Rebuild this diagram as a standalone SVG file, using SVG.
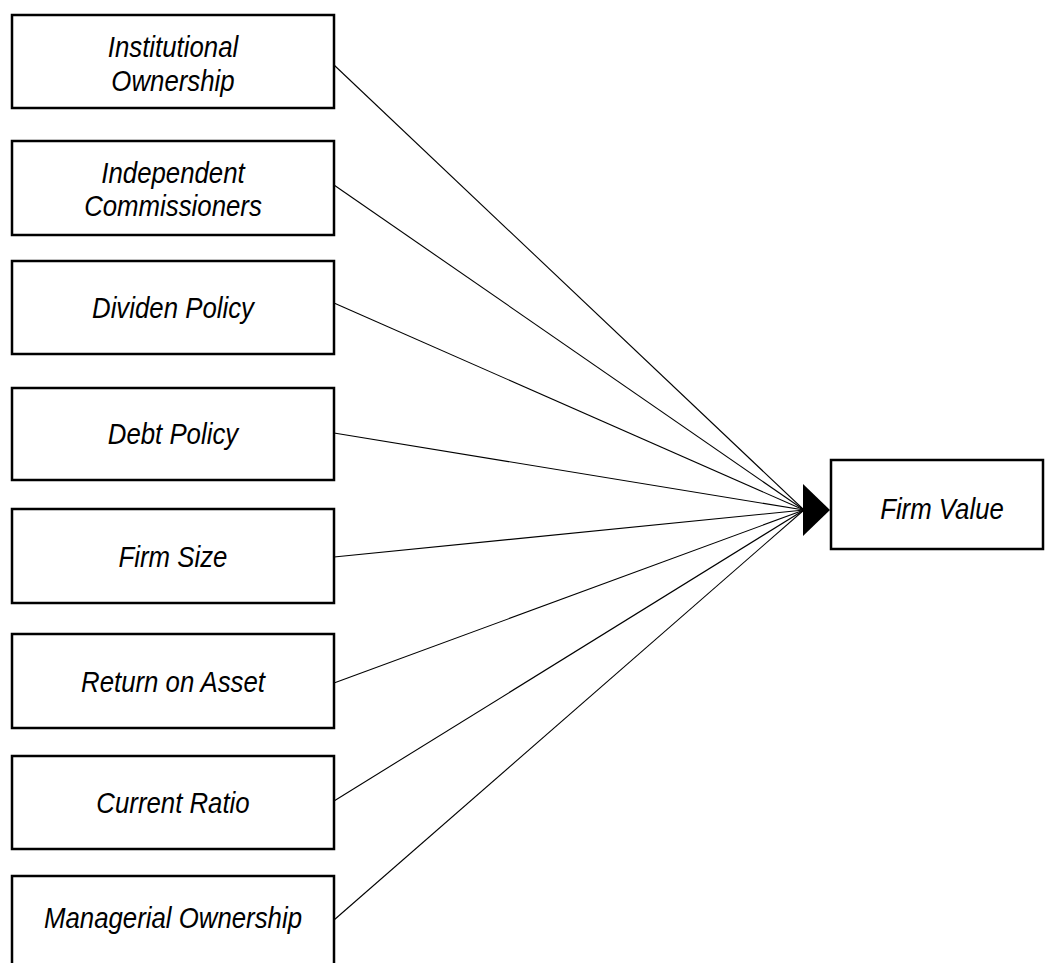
<svg xmlns="http://www.w3.org/2000/svg" width="1048" height="963" viewBox="0 0 1048 963">
<style>
.box{fill:#fff;stroke:#000;stroke-width:2.5}
.lbl{font-family:"Liberation Sans",Arial,sans-serif;font-style:italic;font-size:30px;fill:#000;text-anchor:middle}
.conn{stroke:#000;stroke-width:1.1;fill:none}
</style>
<rect width="1048" height="963" fill="#fff"/>
<g id="connectors">
<line class="conn" x1="334" y1="65" x2="804" y2="510"/>
<line class="conn" x1="334" y1="185" x2="804" y2="510"/>
<line class="conn" x1="334" y1="303" x2="804" y2="510"/>
<line class="conn" x1="334" y1="433" x2="804" y2="510"/>
<line class="conn" x1="334" y1="557" x2="804" y2="510"/>
<line class="conn" x1="334" y1="683" x2="804" y2="510"/>
<line class="conn" x1="334" y1="801" x2="804" y2="510"/>
<line class="conn" x1="334" y1="920" x2="804" y2="510"/>
<polygon points="803,484 830,510 803,536" fill="#000"/>
</g>
<g id="n1"><rect class="box" x="12" y="15" width="322" height="93"/>
<text class="lbl" transform="translate(173,57) scale(0.86,1)">Institutional</text>
<text class="lbl" transform="translate(173,91) scale(0.86,1)">Ownership</text></g>
<g id="n2"><rect class="box" x="12" y="141" width="322" height="94"/>
<text class="lbl" transform="translate(173,183) scale(0.86,1)">Independent</text>
<text class="lbl" transform="translate(173,216) scale(0.86,1)">Commissioners</text></g>
<g id="n3"><rect class="box" x="12" y="261" width="322" height="93"/>
<text class="lbl" transform="translate(173,318) scale(0.86,1)">Dividen Policy</text></g>
<g id="n4"><rect class="box" x="12" y="388" width="322" height="92"/>
<text class="lbl" transform="translate(173,444) scale(0.86,1)">Debt Policy</text></g>
<g id="n5"><rect class="box" x="12" y="509" width="322" height="94"/>
<text class="lbl" transform="translate(173,567) scale(0.86,1)">Firm Size</text></g>
<g id="n6"><rect class="box" x="12" y="634" width="322" height="94"/>
<text class="lbl" transform="translate(173,692) scale(0.86,1)">Return on Asset</text></g>
<g id="n7"><rect class="box" x="12" y="756" width="322" height="93"/>
<text class="lbl" transform="translate(173,813) scale(0.86,1)">Current Ratio</text></g>
<g id="n8"><rect class="box" x="12" y="876" width="322" height="93"/>
<text class="lbl" transform="translate(173,928) scale(0.86,1)">Managerial Ownership</text></g>
<g id="n9"><rect class="box" x="831" y="460" width="212" height="89"/>
<text class="lbl" transform="translate(942,519) scale(0.86,1)">Firm Value</text></g>
</svg>
